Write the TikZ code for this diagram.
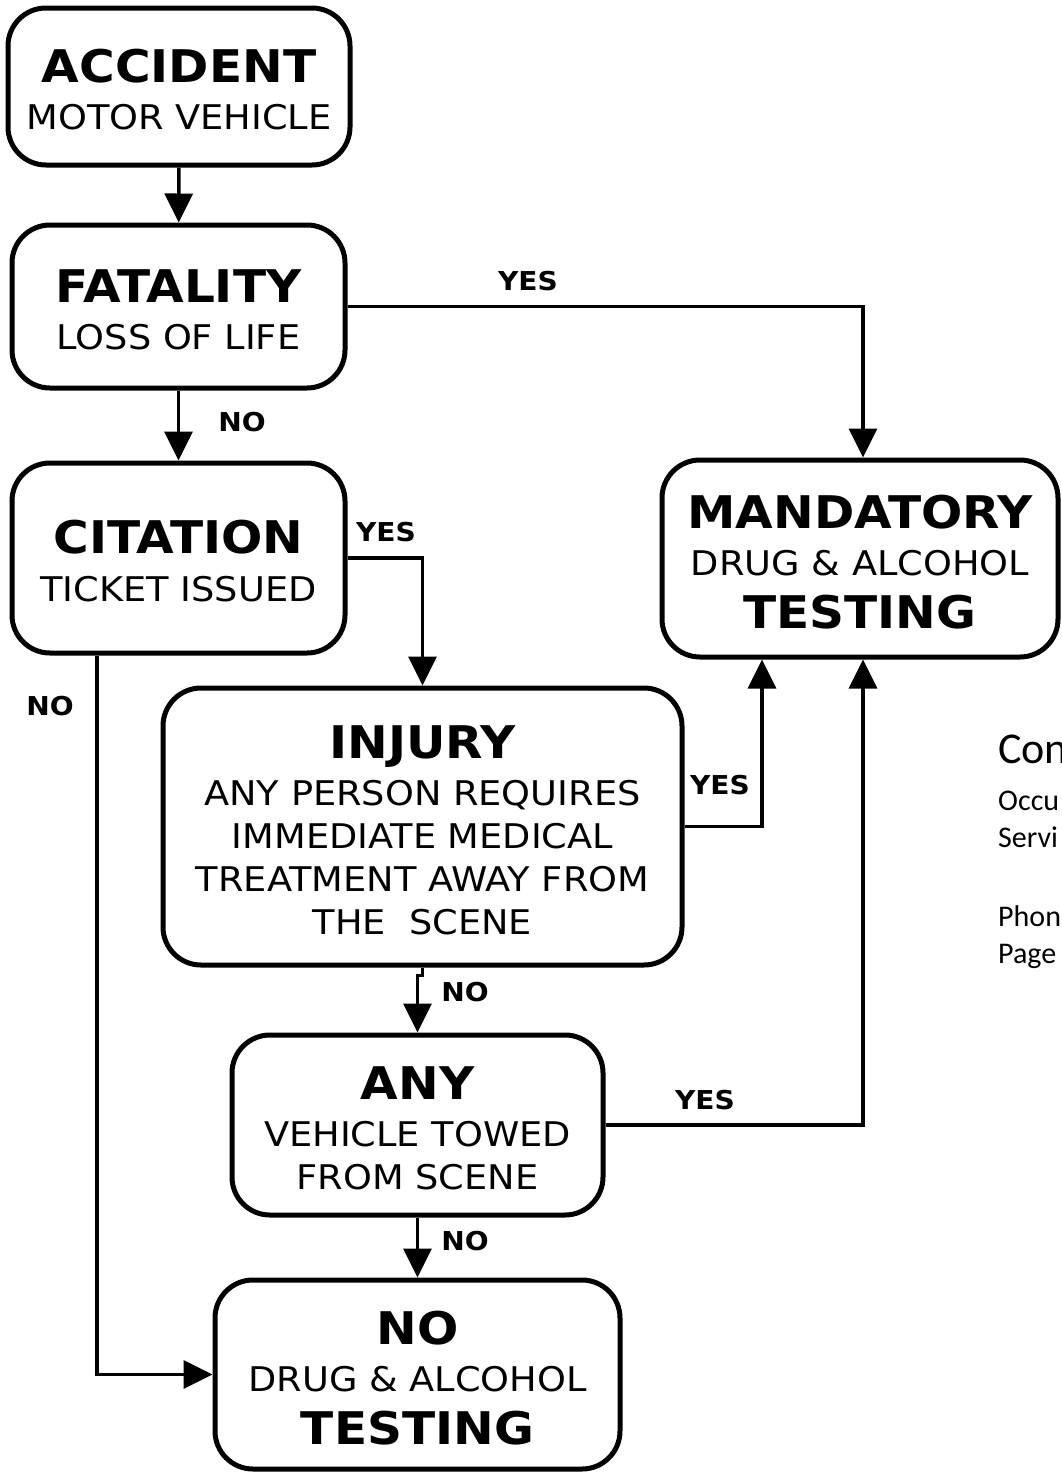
\documentclass[tikz,border=0pt]{standalone}
\usepackage{fontspec}
\setmainfont[FakeStretch=1.08]{DejaVu Sans}
\newfontfamily\notefont{Carlito}
\usetikzlibrary{arrows.meta}
\newcommand\hd[1]{{\fontsize{45}{52}\selectfont\bfseries\rule{0pt}{40pt}#1}}
\newcommand\regtxt{\fontsize{34}{43}\selectfont}
\newcommand\lbltxt{\fontsize{26}{30}\selectfont\bfseries}
\begin{document}
\begin{tikzpicture}[x=1pt,y=-1pt,
  box/.style={draw,line width=5pt,rounded corners=38pt,align=center,inner sep=0pt,font=\regtxt},
  conn/.style={line width=3.5pt,-{Triangle[length=29pt,width=28pt]}},
  lbl/.style={font=\lbltxt,inner sep=0pt},
  note/.style={anchor=base west,inner sep=0pt}]
\useasboundingbox (0,0) rectangle (1061,1473);
% boxes
\node[box,minimum width=342pt,minimum height=157pt] (acc) at (179,86.5) {\hd{ACCIDENT}\\[4pt] MOTOR VEHICLE};
\node[box,minimum width=333pt,minimum height=163pt] (fat) at (178.5,306.5) {\hd{FATALITY}\\[4pt] LOSS OF LIFE};
\node[box,minimum width=333pt,minimum height=190pt] (cit) at (178.5,558) {\hd{CITATION}\\[5pt] TICKET ISSUED};
\node[box,minimum width=396pt,minimum height=197pt] (mand) at (860,558.5) {\hd{MANDATORY}\\[4pt] DRUG \& ALCOHOL\\[10pt] \hd{TESTING}};
\node[box,minimum width=519pt,minimum height=277pt] (inj) at (422.5,826.5) {\hd{INJURY}\\[4pt] ANY PERSON REQUIRES\\ IMMEDIATE MEDICAL\\ TREATMENT AWAY FROM\\ THE\ \ SCENE};
\node[box,minimum width=371pt,minimum height=180pt] (any) at (417.5,1125) {\hd{ANY}\\[4pt] VEHICLE TOWED\\ FROM SCENE};
\node[box,minimum width=405pt,minimum height=189pt] (notest) at (417.5,1374.5) {\hd{NO}\\[4pt] DRUG \& ALCOHOL\\[10pt] \hd{TESTING}};
% connectors
\draw[conn] (acc) -- (fat);
\draw[conn] (fat) -- (cit);
\draw[conn] (fat.east) -| ([xshift=3pt]mand.north);
\draw[conn] (cit.east) -| (inj.north);
\draw[conn] ([xshift=-81.5pt]cit.south) |- (notest.west);
\draw[conn] (inj.east) -| ([xshift=-98pt]mand.south);
\draw[conn] (inj.south) -- ++(0,8) -| (any.north);
\draw[conn] (any.east) -| ([xshift=3pt]mand.south);
\draw[conn] (any) -- (notest);
% labels
\node[lbl] (yes1) at (528,281) {YES};
\node[lbl] (no1) at (242,422) {NO};
\node[lbl] (yes2) at (386,532) {YES};
\node[lbl] (no2) at (50,706) {NO};
\node[lbl] (yes3) at (720,785) {YES};
\node[lbl] (no3) at (465,992) {NO};
\node[lbl] (yes4) at (705,1100) {YES};
\node[lbl] (no4) at (465,1241) {NO};
% contact note, cut off at the edge
\node[note,font=\notefont\fontsize{44}{52}\selectfont] (contact) at (998,763) {Con};
\node[note,font=\notefont\fontsize{30}{36}\selectfont] (dept1) at (998,810) {Occu};
\node[note,font=\notefont\fontsize{30}{36}\selectfont] (dept2) at (998,847) {Servi};
\node[note,font=\notefont\fontsize{30}{36}\selectfont] (phone) at (998,926) {Phon};
\node[note,font=\notefont\fontsize{30}{36}\selectfont] (pager) at (998,963) {Page};
\end{tikzpicture}
\end{document}
